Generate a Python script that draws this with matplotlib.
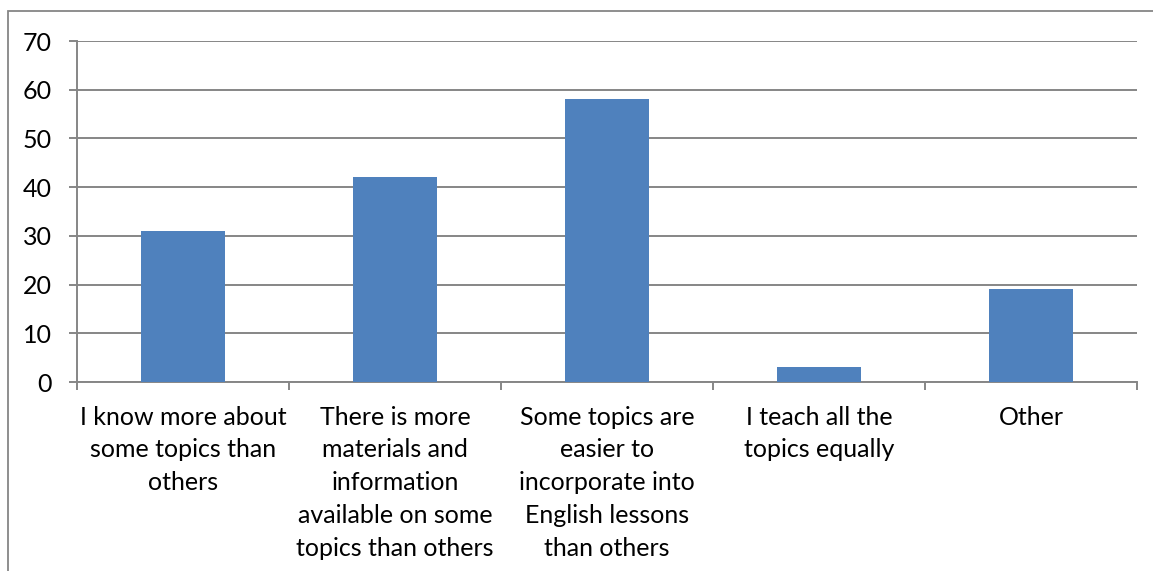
import matplotlib.pyplot as plt
from matplotlib.patches import Rectangle
import numpy as np

categories = ['I know more about\nsome topics than\nothers',
              'There is more\nmaterials and\ninformation\navailable on some\ntopics than others',
              'Some topics are\neasier to\nincorporate into\nEnglish lessons\nthan others',
              'I teach all the\ntopics equally',
              'Other']
values = [31, 42, 58, 3, 19]
y_ticks = [0, 10, 20, 30, 40, 50, 60, 70]

plt.rcParams['font.family'] = ['Lato', 'DejaVu Sans']
grey = '#868686'

fig = plt.figure(figsize=(11.53, 5.71), dpi=100)
W, H = 1153, 571
ax = fig.add_axes([77 / W, 1 - 382 / H, (1137 - 77) / W, (382 - 41) / H])

# chart frame
fig.patches.append(Rectangle((8 / W, -0.1), 1.2, 1 - 11 / H + 0.1, transform=fig.transFigure,
                             fill=False, edgecolor=grey, linewidth=1.3))

x = np.arange(len(categories))
ax.bar(x, values, width=0.4, color='#4F81BD', zorder=3)

ax.set_xlim(-0.5, len(categories) - 0.5)
ax.set_ylim(0, 70)
ax.set_yticks(y_ticks)
ax.yaxis.grid(True, color=grey, linewidth=1.4, zorder=0)

ax.set_xticks(np.arange(len(categories) + 1) - 0.5)
ax.set_xticklabels([])
ax.set_xticks(x, minor=True)
ax.set_xticklabels(categories, minor=True, fontsize=18, linespacing=1.52)
ax.tick_params(axis='x', which='major', length=6, color=grey, width=1.4)
ax.tick_params(axis='x', which='minor', length=0, pad=17)
ax.tick_params(axis='y', length=6, color=grey, width=1.4, labelsize=18, pad=12)

for s in ['top', 'right']:
    ax.spines[s].set_visible(False)
for s in ['left', 'bottom']:
    ax.spines[s].set_color(grey)
    ax.spines[s].set_linewidth(1.4)

fig.savefig('out.png', dpi=100)
